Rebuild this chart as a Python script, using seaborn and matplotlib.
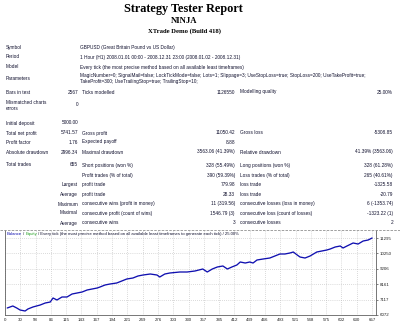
import numpy as np
import pandas as pd
import matplotlib
matplotlib.use("Agg")
import matplotlib.pyplot as plt
from matplotlib.lines import Line2D
import seaborn as sns

# ---------------- data ----------------
title = "Strategy Tester Report"
expert = "NINJA"
server = "XTrade Demo (Build 418)"

symbol = "GBPUSD (Great Britain Pound vs US Dollar)"
period = "1 Hour (H1) 2008.01.01 00:00 - 2008.12.31 23:00 (2008.01.02 - 2008.12.31)"
model = "Every tick (the most precise method based on all available least timeframes)"
params_line1 = "MagicNumber=0; SignalMail=false; LockTickMode=false; Lots=1; Slippage=3; UseStopLoss=true; StopLoss=200; UseTakeProfit=true;"
params_line2 = "TakeProfit=300; UseTrailingStop=true; TrailingStop=10;"

# rows: (label, value, label2, value2, label3, value3)
stat_rows_a = [
    ("Bars in test", "2567", "Ticks modelled", "1126550", "Modelling quality", "25.00%"),
]
stat_rows_b = [
    ("Total net profit", "5741.57", "Gross profit", "11050.42", "Gross loss", "-5308.85"),
    ("Profit factor", "1.76", "Expected payoff", "8.88", "", ""),
    ("Absolute drawdown", "2996.34", "Maximal drawdown", "3563.06 (41.39%)", "Relative drawdown", "41.39% (3563.06)"),
]
stat_rows_c = [
    ("Total trades", "655", "Short positions (won %)", "328 (55.49%)", "Long positions (won %)", "328 (61.28%)"),
    ("", "", "Profit trades (% of total)", "390 (59.39%)", "Loss trades (% of total)", "265 (40.61%)"),
    ("Largest", "", "profit trade", "779.98", "loss trade", "-1325.58"),
    ("Average", "", "profit trade", "28.33", "loss trade", "-20.79"),
    ("Maximum", "", "consecutive wins (profit in money)", "11 (319.56)", "consecutive losses (loss in money)", "6 (-1353.74)"),
    ("Maximal", "", "consecutive profit (count of wins)", "1546.79 (3)", "consecutive loss (count of losses)", "-1323.22 (1)"),
    ("Average", "", "consecutive wins", "3", "consecutive losses", "2"),
]
initial_deposit = "5000.00"

trades = [4, 14, 21, 27, 36, 41, 50, 63, 72, 81, 86, 93, 102, 111, 120, 129, 138, 147,
          156, 165, 170, 179, 188, 200, 209, 218, 229, 238, 247, 260, 272, 277, 286,
          295, 313, 326, 340, 354, 362, 371, 380, 390, 398, 406, 415, 421, 430, 438,
          444, 451, 462, 474, 483, 492, 501, 510, 516, 523, 528, 537, 546, 558, 567,
          576, 582, 591, 600, 605, 612, 623, 632, 641, 650, 657]
balance = [6547, 6683, 6547, 6411, 6343, 6479, 6615, 6750, 6886, 6954, 7225, 7090,
           7293, 7293, 7496, 7564, 7632, 7768, 7836, 7903, 7971, 8107, 8175, 8243,
           8378, 8514, 8582, 8718, 8785, 8853, 8785, 8650, 8853, 8921, 8989, 8989,
           9057, 9192, 8989, 9192, 9328, 9396, 9192, 9328, 9464, 9667, 9599, 9667,
           9599, 9803, 9871, 9938, 10074, 10210, 10210, 10278, 10345, 10142, 10006,
           9938, 10074, 10345, 10413, 10481, 10549, 10685, 10752, 10617, 10752,
           10956, 10888, 11091, 11159, 11295]

x_tick_labels = ["0", "30", "58", "86", "115", "143", "167", "194", "221", "249", "276",
                 "303", "330", "357", "385", "412", "439", "466", "493", "521", "548",
                 "575", "602", "630", "657"]
y_tick_values = [6072, 7117, 8161, 9206, 10250, 11295]

# ---------------- style ----------------
sns.set_style("white")
plt.rcParams["font.family"] = ["Liberation Sans", "DejaVu Sans"]

W, H = 400, 323
fig = plt.figure(figsize=(W / 100, H / 100), dpi=100)
fig.patch.set_facecolor("white")

TXT = "#10102e"
FS = 3.4


def T(x, y, s, ha="left", size=FS, **kw):
    kw.setdefault("color", TXT)
    fig.text(x / W, 1 - y / H, s, ha=ha, va="center", fontsize=size, **kw)


serif = ["Liberation Serif", "DejaVu Serif"]
T(183, 9, title, ha="center", size=8.8, family=serif, weight="bold", color="black")
T(184, 21, expert, ha="center", size=6.2, family=serif, weight="bold", color="black")
T(185, 31, server, ha="center", size=4.8, family=serif, weight="bold", color="black")

C1, C2R, C3, C4R, C5, C6R = 6, 78, 82, 235, 240, 393

T(C1, 47, "Symbol")
T(80, 47, symbol)
T(C1, 57, "Period")
T(80, 57, period)
T(C1, 67, "Model")
T(80, 67, model)
T(C1, 78, "Parameters")
T(80, 75, params_line1)
T(80, 81, params_line2)


def stat_row(y, row):
    l1, v1, l2, v2, l3, v3 = row
    if l1 in ("Largest", "Average", "Maximum", "Maximal"):
        T(C2R, y, l1, ha="right")
    elif l1:
        T(C1, y, l1)
    if v1:
        T(C2R, y, v1, ha="right")
    if l2:
        T(C3, y, l2)
    if v2:
        T(C4R, y, v2, ha="right")
    if l3:
        T(C5, y, l3)
    if v3:
        T(C6R, y, v3, ha="right")


stat_row(92, stat_rows_a[0])
T(C1, 102, "Mismatched charts")
T(C1, 109, "errors")
T(C2R, 105, "0", ha="right")
T(C1, 123, "Initial deposit")
T(C2R, 123, initial_deposit, ha="right")
for y, row in zip([133, 142, 152], stat_rows_b):
    stat_row(y, row)
for y, row in zip([165, 175, 185, 194, 204, 213, 223], stat_rows_c):
    stat_row(y, row)

# dashed separator
fig.add_artist(Line2D([0, 1], [1 - 229.5 / H, 1 - 229.5 / H], transform=fig.transFigure,
                      color="#909090", lw=0.6, ls=(0, (3, 1.5))))

# ---------------- chart ----------------
left, right, top, bottom = 5, 376, 230, 315
ax = fig.add_axes([left / W, 1 - bottom / H, (right - left) / W, (bottom - top) / H])
df = pd.DataFrame({"trade": trades, "balance": balance})
sns.lineplot(data=df, x="trade", y="balance", ax=ax, color="#1010b0", lw=0.95)

ax.set_xlim(0, 664)
ax.set_ylim(6072, 11838)
xt = np.linspace(0, 657, len(x_tick_labels))
ax.set_xticks(xt)
ax.set_xticklabels(x_tick_labels)
ax.set_yticks(y_tick_values)
ax.set_yticklabels([str(v) for v in y_tick_values])
ax.yaxis.tick_right()
ax.tick_params(axis="both", labelsize=3.2, length=1.5, width=0.4, pad=1,
               colors="#202020")
ax.set_xlabel("")
ax.set_ylabel("")
ax.grid(True, color="#b8b8b8", ls=(0, (1, 2)), lw=0.5)
for s in ["left", "right", "bottom"]:
    ax.spines[s].set_color("#606060")
    ax.spines[s].set_linewidth(0.6)
ax.spines["top"].set_visible(False)

# legend line at top of chart
ax.text(0.005, 0.955, "Balance", transform=ax.transAxes, fontsize=3.1, color="#1010b0",
        va="center")
ax.text(0.048, 0.955, "/", transform=ax.transAxes, fontsize=3.1, color=TXT, va="center")
ax.text(0.056, 0.955, "Equity", transform=ax.transAxes, fontsize=3.1, color="#20a020",
        va="center")
ax.text(0.09, 0.955,
        "/ Every tick (the most precise method based on all available least timeframes to generate each tick) / 25.00%",
        transform=ax.transAxes, fontsize=3.1, color=TXT, va="center")

fig.savefig("out.png", dpi=100, facecolor="white")
